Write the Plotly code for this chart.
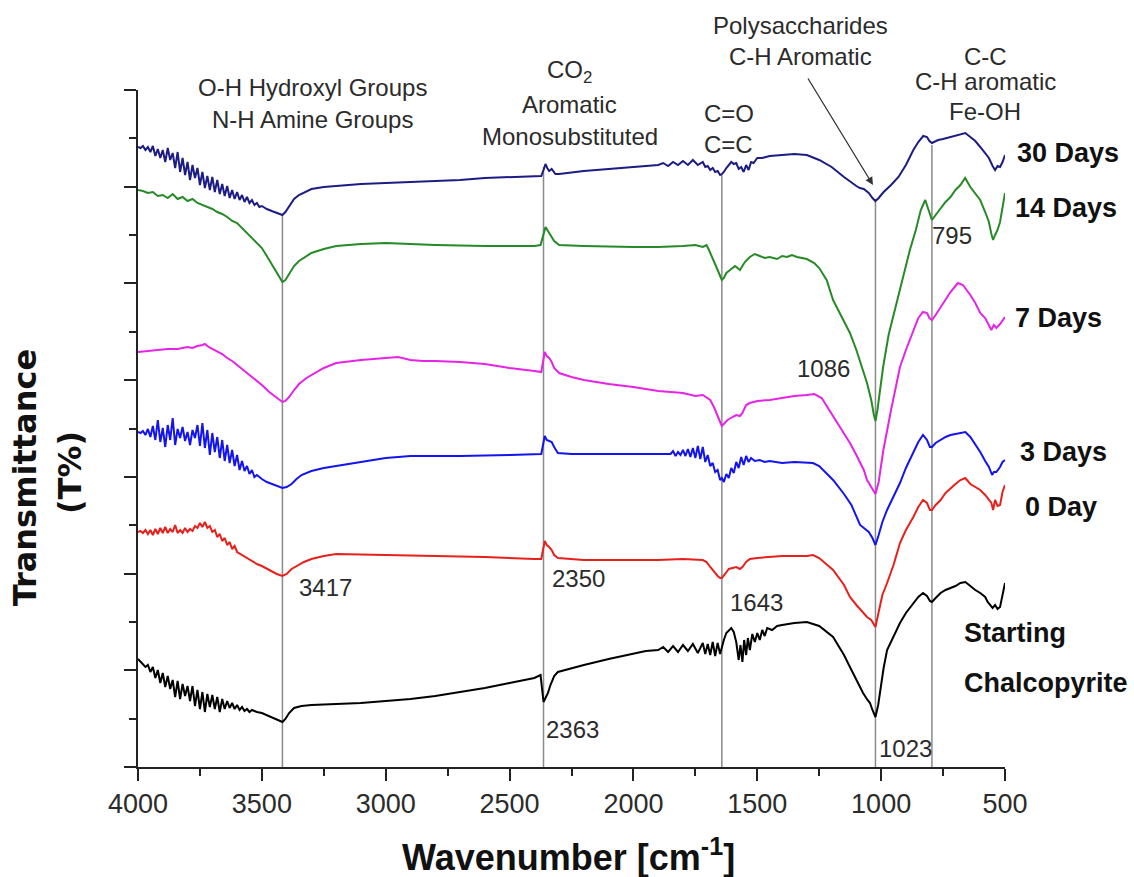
import plotly.graph_objects as go

# ---------------- data: (wavenumber cm-1, transmittance, offset arbitrary units) ----------------
days30 = [(4000,62.0),(3990,61.9),(3980,62.1),(3970,61.7),(3960,62.0),(3950,61.5),(3940,62.1),(3930,61.1),
    (3920,61.8),(3910,60.9),(3900,61.7),(3890,60.5),(3880,61.9),(3870,60.7),(3860,61.4),(3850,59.9),(3840,61.5),
    (3830,59.5),(3820,60.9),(3810,59.2),(3800,60.5),(3790,58.7),(3780,60.2),(3770,58.9),(3760,59.9),(3750,58.2),
    (3740,59.5),(3730,57.9),(3720,59.1),(3710,57.7),(3700,59.0),(3690,57.5),(3680,58.7),(3670,57.3),(3660,58.3),
    (3650,57.1),(3640,58.1),(3630,56.9),(3620,57.7),(3610,56.8),(3600,57.5),(3590,56.7),(3580,57.2),(3570,56.5),
    (3560,57.0),(3550,56.4),(3540,56.7),(3530,56.2),(3520,56.4),(3510,56.0),(3500,56.1),(3480,55.8),(3460,55.6),
    (3440,55.4),(3425,55.2),(3417,55.2),(3405,55.5),(3390,56.1),(3370,56.8),(3350,57.2),(3320,57.6),(3300,57.8),
    (3250,58.0),(3200,58.1),(3100,58.3),(3000,58.4),(2900,58.5),(2800,58.6),(2700,58.7),(2600,58.9),(2500,59.0),
    (2400,59.1),(2372,59.1),(2363,59.7),(2355,60.3),(2348,59.9),(2340,59.6),(2330,59.8),(2315,59.3),(2300,59.3),
    (2200,59.6),(2100,59.8),(2000,60.0),(1950,60.1),(1900,60.2),(1880,60.4),(1860,60.1),(1840,60.5),(1820,60.2),
    (1800,60.6),(1780,60.2),(1760,60.7),(1740,60.2),(1720,60.5),(1710,60.0),(1700,60.1),(1690,59.7),(1680,59.9),
    (1670,59.5),(1660,59.6),(1650,59.2),(1643,59.3),(1635,59.5),(1625,59.9),(1615,60.2),(1605,60.5),(1595,60.3),
    (1585,60.4),(1575,59.8),(1565,60.0),(1555,59.5),(1545,60.2),(1535,59.7),(1525,60.5),(1515,60.4),(1500,60.9),
    (1480,60.9),(1450,61.1),(1400,61.2),(1350,61.3),(1300,61.2),(1250,60.7),(1200,60.0),(1150,59.0),(1100,58.1),
    (1086,57.9),(1070,57.8),(1050,57.4),(1035,56.9),(1023,56.6),(1010,56.9),(990,57.5),(960,58.2),(930,59.0),
    (900,60.2),(870,61.7),(850,62.5),(830,63.1),(815,63.0),(805,62.6),(795,62.4),(785,62.5),(770,62.7),(750,62.8),
    (720,63.0),(700,63.1),(680,63.2),(660,63.4),(640,63.0),(620,62.6),(600,62.0),(580,61.4),(565,60.9),(550,60.1),
    (540,59.7),(530,60.1),(520,60.0),(510,60.5),(500,61.2)]

days14 = [(4000,57.7),(3980,57.6),(3960,57.4),(3940,57.5),(3920,57.1),(3900,57.2),(3880,56.9),(3860,57.3),
    (3840,56.8),(3820,57.0),(3800,56.6),(3780,56.8),(3760,56.4),(3740,56.2),(3720,56.0),(3700,55.8),(3680,55.5),
    (3660,55.3),(3640,55.0),(3620,54.6),(3600,54.4),(3580,53.9),(3560,53.5),(3540,53.0),(3520,52.5),(3500,51.9),
    (3480,51.1),(3460,50.3),(3440,49.4),(3425,48.8),(3417,48.5),(3405,48.7),(3390,49.3),(3370,50.1),(3350,50.6),
    (3320,51.1),(3300,51.4),(3250,51.8),(3200,52.1),(3100,52.3),(3000,52.4),(2900,52.3),(2800,52.2),(2600,52.1),
    (2400,52.1),(2375,52.2),(2365,53.1),(2355,54.0),(2345,53.6),(2335,53.2),(2320,52.6),(2300,52.2),(2200,52.1),
    (2000,52.0),(1900,52.0),(1800,52.1),(1750,52.2),(1720,52.0),(1705,52.2),(1695,51.7),(1680,50.9),(1670,50.3),
    (1660,49.7),(1650,49.1),(1643,48.7),(1635,48.9),(1625,49.4),(1615,49.6),(1600,49.9),(1590,50.1),(1580,49.9),
    (1570,49.7),(1560,50.1),(1550,50.5),(1530,51.0),(1510,51.3),(1490,51.1),(1470,50.9),(1450,51.0),(1420,50.8),
    (1400,51.1),(1380,51.0),(1360,51.2),(1340,51.0),(1300,50.8),(1270,50.4),(1250,49.9),(1220,48.7),(1194,46.7),
    (1150,44.5),(1126,43.4),(1100,41.7),(1086,40.7),(1070,39.4),(1057,38.4),(1040,36.7),(1030,35.3),(1023,34.6),
    (1015,35.7),(1005,37.7),(992,40.0),(970,43.2),(950,45.2),(936,46.7),(910,49.2),(884,51.7),(860,53.7),
    (840,55.7),(822,56.7),(810,55.9),(795,54.7),(780,55.2),(760,55.9),(740,56.5),(720,57.0),(700,57.7),(680,58.2),
    (661,58.9),(640,58.0),(620,57.4),(600,56.7),(580,55.5),(565,54.5),(555,53.3),(548,52.7),(540,53.2),(530,53.7),
    (520,54.5),(510,56.2),(500,57.4)]

days7 = [(4000,41.5),(3960,41.6),(3920,41.7),(3880,41.8),(3840,41.8),(3800,42.0),(3780,41.9),(3760,42.1),
    (3740,42.2),(3730,42.3),(3715,42.0),(3700,41.8),(3680,41.6),(3660,41.3),(3640,40.9),(3620,40.6),(3600,40.2),
    (3570,39.6),(3540,39.0),(3500,38.2),(3470,37.5),(3440,36.9),(3425,36.6),(3417,36.5),(3405,36.6),(3390,37.0),
    (3370,37.7),(3350,38.3),(3320,38.9),(3300,39.2),(3250,39.9),(3200,40.4),(3100,40.7),(3000,40.9),(2950,41.0),
    (2900,40.7),(2850,40.6),(2800,40.6),(2700,40.5),(2600,40.3),(2500,39.9),(2400,39.6),(2372,39.5),(2365,40.5),
    (2358,41.5),(2350,41.1),(2340,40.9),(2330,40.5),(2320,39.9),(2300,39.4),(2250,39.0),(2200,38.7),(2100,38.3),
    (2000,38.0),(1900,37.6),(1800,37.4),(1750,37.1),(1720,37.2),(1700,36.9),(1690,36.7),(1675,36.0),(1660,35.2),
    (1650,34.5),(1643,34.1),(1635,34.3),(1620,34.7),(1600,35.0),(1585,35.2),(1570,35.1),(1560,35.4),(1545,36.2),
    (1530,36.4),(1500,36.6),(1450,36.7),(1400,36.9),(1350,37.1),(1300,37.2),(1270,37.3),(1240,36.9),(1200,35.3),
    (1150,33.3),(1126,32.4),(1100,31.2),(1070,29.7),(1057,28.7),(1040,28.0),(1023,27.3),(1010,28.5),(991,31.7),
    (960,35.7),(924,40.0),(900,41.7),(870,43.7),(850,44.9),(831,45.5),(815,45.4),(805,44.9),(795,44.7),(780,45.2),
    (760,46.0),(740,46.7),(720,47.5),(700,48.1),(690,48.4),(670,48.2),(660,47.9),(640,47.2),(620,46.4),(600,45.4),
    (580,44.9),(565,44.2),(555,43.7),(545,44.2),(535,43.9),(520,44.3),(510,44.7),(500,45.0)]

days3 = [(4000,33.5),(3990,33.4),(3980,33.6),(3970,33.2),(3960,33.8),(3950,33.0),(3940,34.1),(3930,32.7),
    (3920,34.7),(3910,32.5),(3900,33.9),(3890,32.0),(3880,34.2),(3870,32.7),(3860,34.9),(3850,32.2),(3840,33.8),
    (3830,32.9),(3820,34.0),(3810,32.6),(3800,33.5),(3790,32.2),(3780,33.7),(3770,32.9),(3760,34.2),(3750,32.1),
    (3740,34.4),(3730,31.9),(3720,33.7),(3710,31.2),(3700,33.4),(3690,31.5),(3680,33.0),(3670,30.9),(3660,32.7),
    (3650,30.6),(3640,32.2),(3630,30.4),(3620,31.7),(3610,30.1),(3600,31.2),(3590,29.7),(3580,30.6),(3570,29.6),
    (3560,30.1),(3550,29.3),(3540,29.7),(3530,29.0),(3520,29.2),(3500,28.8),(3480,28.5),(3460,28.3),(3440,28.1),
    (3417,27.9),(3400,28.0),(3380,28.3),(3360,28.8),(3340,29.2),(3300,29.6),(3250,29.9),(3200,30.1),(3100,30.5),
    (3000,30.9),(2900,31.1),(2700,31.1),(2500,31.2),(2400,31.3),(2372,31.3),(2365,32.2),(2358,33.1),(2350,32.7),
    (2340,32.6),(2330,32.5),(2320,32.0),(2305,31.4),(2250,31.3),(2000,31.3),(1850,31.3),(1840,31.6),(1830,31.1),
    (1820,31.5),(1810,31.2),(1800,31.7),(1790,31.1),(1780,31.8),(1770,31.0),(1760,31.9),(1750,30.9),(1740,32.1),
    (1730,30.8),(1720,32.0),(1710,30.5),(1700,31.2),(1690,30.1),(1680,30.4),(1670,29.5),(1660,29.7),(1650,28.7),
    (1643,28.9),(1635,28.5),(1625,29.3),(1615,28.9),(1605,29.9),(1595,29.4),(1585,30.5),(1575,29.9),(1565,31.0),
    (1555,30.2),(1545,31.1),(1535,30.5),(1525,30.9),(1510,30.6),(1490,30.7),(1470,30.5),(1450,30.6),(1400,30.4),
    (1350,30.5),(1300,30.4),(1275,30.4),(1250,30.1),(1194,28.7),(1150,27.3),(1120,26.2),(1085,24.2),(1070,23.9),
    (1050,23.5),(1035,22.9),(1023,22.2),(1010,23.2),(995,24.5),(976,25.7),(950,27.0),(924,28.4),(900,29.9),
    (870,31.5),(850,32.5),(831,33.2),(815,32.7),(803,32.0),(795,32.0),(780,32.4),(760,32.7),(740,33.0),(720,33.2),
    (700,33.3),(680,33.4),(660,33.5),(640,33.0),(620,32.3),(600,31.5),(580,30.6),(565,30.0),(552,29.2),(545,29.5),
    (535,29.5),(520,30.0),(510,30.5),(500,30.7)]

day0 = [(4000,23.5),(3990,23.6),(3980,23.4),(3970,23.7),(3960,23.3),(3950,23.7),(3940,23.2),(3930,23.8),
    (3920,23.3),(3910,23.9),(3900,23.4),(3890,24.0),(3880,23.4),(3870,23.8),(3860,23.5),(3850,24.2),(3840,23.4),
    (3830,23.7),(3820,23.4),(3810,23.9),(3800,23.5),(3790,23.8),(3780,23.6),(3770,24.1),(3760,23.9),(3750,24.4),
    (3740,24.0),(3730,24.5),(3720,23.9),(3710,24.1),(3700,23.5),(3690,23.7),(3680,23.0),(3670,23.3),(3660,22.6),
    (3650,22.9),(3640,22.2),(3630,22.5),(3620,21.8),(3610,22.1),(3600,21.5),(3580,21.2),(3560,20.9),(3540,20.6),
    (3520,20.3),(3500,20.1),(3470,19.7),(3440,19.3),(3417,19.1),(3400,19.3),(3380,19.8),(3350,20.2),(3330,20.5),
    (3300,20.8),(3250,21.1),(3200,21.3),(3000,21.2),(2800,21.1),(2600,21.0),(2400,20.8),(2372,20.8),(2365,21.7),
    (2358,22.6),(2350,22.2),(2340,22.0),(2330,21.7),(2320,21.2),(2305,20.9),(2200,20.7),(1900,20.7),(1800,20.8),
    (1720,20.7),(1705,20.5),(1690,20.0),(1675,19.5),(1660,19.1),(1650,18.9),(1643,18.9),(1630,19.3),(1615,19.8),
    (1600,19.9),(1585,20.0),(1570,19.8),(1560,20.0),(1545,20.5),(1530,20.8),(1500,20.9),(1450,21.0),(1400,21.1),
    (1300,21.1),(1275,21.2),(1250,20.9),(1194,19.7),(1150,18.2),(1126,17.0),(1100,16.2),(1057,15.0),(1040,14.7),
    (1023,14.0),(1010,15.5),(995,17.2),(976,18.4),(950,20.2),(924,22.4),(900,23.7),(870,25.0),(850,26.0),
    (831,26.7),(815,26.4),(803,25.7),(795,25.7),(780,26.2),(760,26.7),(740,27.4),(720,27.9),(700,28.3),(680,28.7),
    (660,28.9),(640,28.3),(620,28.0),(600,27.7),(580,27.2),(565,26.7),(555,26.4),(548,25.7),(540,26.7),(530,26.1),
    (520,26.2),(510,27.5),(500,28.2)]

chalcopyrite = [(4000,10.8),(3990,10.5),(3980,10.3),(3970,10.0),(3960,10.2),(3950,9.5),(3940,10.0),(3930,8.9),
    (3920,9.7),(3910,8.4),(3900,9.4),(3890,8.0),(3880,9.1),(3870,7.8),(3860,8.7),(3850,7.0),(3840,8.6),(3830,6.8),
    (3820,8.3),(3810,7.1),(3800,8.1),(3790,6.6),(3780,8.1),(3770,6.1),(3760,7.7),(3750,5.8),(3740,7.5),(3730,5.5),
    (3720,7.3),(3710,6.0),(3700,7.2),(3690,5.8),(3680,7.0),(3670,5.5),(3660,6.8),(3650,5.8),(3640,6.6),(3630,5.9),
    (3620,6.4),(3610,5.8),(3600,6.2),(3590,5.7),(3580,6.0),(3570,5.6),(3560,5.8),(3550,5.5),(3540,5.7),(3520,5.5),
    (3500,5.4),(3470,5.1),(3440,4.8),(3425,4.6),(3417,4.5),(3405,4.8),(3390,5.4),(3370,5.9),(3340,6.1),(3300,6.2),
    (3200,6.3),(3100,6.4),(3000,6.6),(2900,6.8),(2800,7.1),(2700,7.5),(2600,7.9),(2500,8.4),(2400,8.9),(2375,9.2),
    (2368,7.9),(2363,6.5),(2355,6.9),(2345,7.4),(2335,8.2),(2320,9.1),(2305,9.5),(2250,9.9),(2200,10.2),
    (2100,10.8),(2000,11.3),(1950,11.6),(1900,11.7),(1880,12.0),(1860,11.5),(1840,12.1),(1820,11.5),(1800,12.2),
    (1780,11.6),(1760,12.3),(1740,11.4),(1720,12.4),(1710,11.3),(1700,12.3),(1690,11.2),(1680,12.5),(1670,11.1),
    (1660,12.4),(1650,11.3),(1643,12.0),(1635,12.7),(1625,13.4),(1615,13.7),(1605,13.9),(1595,13.5),(1585,12.5),
    (1575,10.7),(1568,12.2),(1560,10.5),(1553,12.7),(1545,11.2),(1538,12.9),(1530,11.7),(1520,13.3),(1510,12.5),
    (1500,13.4),(1490,12.7),(1480,13.7),(1470,13.1),(1460,13.9),(1440,13.7),(1420,14.1),(1400,14.2),(1350,14.4),
    (1300,14.5),(1270,14.3),(1250,14.1),(1194,13.0),(1150,11.2),(1126,10.0),(1100,8.7),(1073,7.4),(1055,6.7),
    (1045,6.4),(1035,5.7),(1023,5.0),(1012,6.2),(1000,8.2),(990,9.9),(976,11.7),(950,13.0),(924,14.4),(900,15.4),
    (870,16.4),(850,17.0),(831,17.4),(815,17.1),(803,16.6),(795,16.5),(780,16.9),(760,17.4),(740,17.7),(720,17.9),
    (700,18.1),(680,18.4),(660,18.5),(640,18.1),(620,17.7),(600,17.4),(580,17.0),(570,16.5),(560,16.2),(550,15.9),
    (540,16.2),(530,15.8),(520,16.0),(510,17.2),(500,18.4)]

series_names = ["30 Days", "14 Days", "7 Days", "3 Days", "0 Day", "Starting Chalcopyrite"]
series_data = [days30, days14, days7, days3, day0, chalcopyrite]
series_colors = ["#1c1c84", "#268a26", "#e524e5", "#1414ee", "#e8201c", "#000000"]

# marked band positions and top of each guide line
peak_wn = [3417, 2363, 1643, 1023, 795]
peak_top = [55.2, 60.0, 59.2, 56.6, 62.2]

x_ticks = [4000, 3500, 3000, 2500, 2000, 1500, 1000, 500]

# ---------------- figure ----------------
fig = go.Figure()

for name, data, col in zip(series_names, series_data, series_colors):
    fig.add_trace(go.Scatter(x=[p[0] for p in data], y=[p[1] for p in data], mode="lines",
                             name=name, line=dict(color=col, width=2), showlegend=False))

for wn, top in zip(peak_wn, peak_top):
    fig.add_shape(type="line", x0=wn, x1=wn, y0=0, y1=top, xref="x", yref="y",
                  line=dict(color="#8a8a8a", width=1.5), layer="below")

REG = "Liberation Sans, Arial, sans-serif"
WIDE = "DejaVu Sans, Verdana, sans-serif"
GRAY = "#2b2b2b"
BLK = "#111111"

def txt(text, x, y, size=24, anchor="center", bold=False, color=GRAY, ref="data"):
    r = ("x", "y") if ref == "data" else ("paper", "paper")
    fig.add_annotation(x=x, y=y, xref=r[0], yref=r[1], text=("<b>%s</b>" % text) if bold else text,
                       showarrow=False, xanchor=anchor, yanchor="middle",
                       font=dict(family=REG, size=size, color=color))

# group annotations (top, outside the plotting area -> paper coordinates)
txt("O-H Hydroxyl Groups", 0.201, 1.003, ref="paper")
txt("N-H Amine Groups", 0.201, 0.956, ref="paper")
txt("CO<sub>2</sub>", 0.498, 1.027, ref="paper")
txt("Aromatic", 0.498, 0.978, ref="paper")
txt("Monosubstituted", 0.498, 0.931, ref="paper")
txt("C=O", 0.651, 0.965, anchor="left", ref="paper")
txt("C=C", 0.651, 0.920, anchor="left", ref="paper")
txt("Polysaccharides", 0.764, 1.095, ref="paper")
txt("C-H Aromatic", 0.764, 1.050, ref="paper")
txt("C-C", 0.977, 1.049, ref="paper")
txt("C-H aromatic", 0.977, 1.012, ref="paper")
txt("Fe-OH", 0.977, 0.968, ref="paper")

# arrow to polysaccharide band
fig.add_annotation(x=1033, y=58.2, ax=1299, ay=69.0, xref="x", yref="y", axref="x", ayref="y",
                   text="", showarrow=True, arrowhead=2, arrowsize=1.2, arrowwidth=1.3, arrowcolor="#333333")

# peak numbers
txt("3417", 3358, 18.0, anchor="left")
txt("2350", 2337, 18.9, anchor="left")
txt("2363", 2361, 3.8, anchor="left")
txt("1643", 1618, 16.5, anchor="left")
txt("1023", 1017, 1.9, anchor="left")
txt("1086", 1118, 39.9, anchor="right")
txt("795", 803, 53.2, anchor="left")

# series labels (right of the plotting area -> paper coordinates)
txt("30 Days", 1.011, 0.907, size=27, anchor="left", bold=True, color=BLK, ref="paper")
txt("14 Days", 1.009, 0.826, size=27, anchor="left", bold=True, color=BLK, ref="paper")
txt("7 Days", 1.009, 0.663, size=27, anchor="left", bold=True, color=BLK, ref="paper")
txt("3 Days", 1.015, 0.465, size=27, anchor="left", bold=True, color=BLK, ref="paper")
txt("0 Day", 1.021, 0.384, size=27, anchor="left", bold=True, color=BLK, ref="paper")
txt("Starting", 0.950, 0.198, size=27, anchor="left", bold=True, color=BLK, ref="paper")
txt("Chalcopyrite", 0.950, 0.124, size=27, anchor="left", bold=True, color=BLK, ref="paper")

# axis titles
fig.add_annotation(x=0.497, y=-0.13, xref="paper", yref="paper", showarrow=False,
                   text="<b>Wavenumber [cm<sup>-1</sup>]</b>", xanchor="center", yanchor="middle",
                   font=dict(family=REG, size=36, color=BLK))
fig.add_annotation(x=-0.131, y=0.427, xref="paper", yref="paper", showarrow=False,
                   text="<b>Transmittance</b>", textangle=-90, xanchor="center", yanchor="middle",
                   font=dict(family=WIDE, size=32, color=BLK))
fig.add_annotation(x=-0.079, y=0.435, xref="paper", yref="paper", showarrow=False,
                   text="<b>(T%)</b>", textangle=-90, xanchor="center", yanchor="middle",
                   font=dict(family=WIDE, size=32, color=BLK))

fig.update_layout(
    width=1134, height=877,
    margin=dict(l=138, r=129, t=90, b=110),
    paper_bgcolor="white", plot_bgcolor="white",
    xaxis=dict(range=[4000, 500], tickvals=x_ticks, ticks="outside", ticklen=12, tickwidth=2,
               tickcolor="#222", showline=True, linewidth=2, linecolor="#222", showgrid=False,
               zeroline=False, tickfont=dict(family=REG, size=27, color="#2b2b2b"),
               minor=dict(ticks="outside", ticklen=7, tickwidth=2, tickcolor="#222", dtick=250, tick0=500,
                          showgrid=False)),
    yaxis=dict(range=[0, 67.7], tick0=0, dtick=9.671, ticks="outside", ticklen=12, tickwidth=2,
               tickcolor="#222", showline=True, linewidth=2, linecolor="#222", showgrid=False,
               zeroline=False, showticklabels=False,
               minor=dict(ticks="outside", ticklen=7, tickwidth=2, tickcolor="#222", dtick=4.8355, tick0=0,
                          showgrid=False)),
)

fig.write_html("out.html")
